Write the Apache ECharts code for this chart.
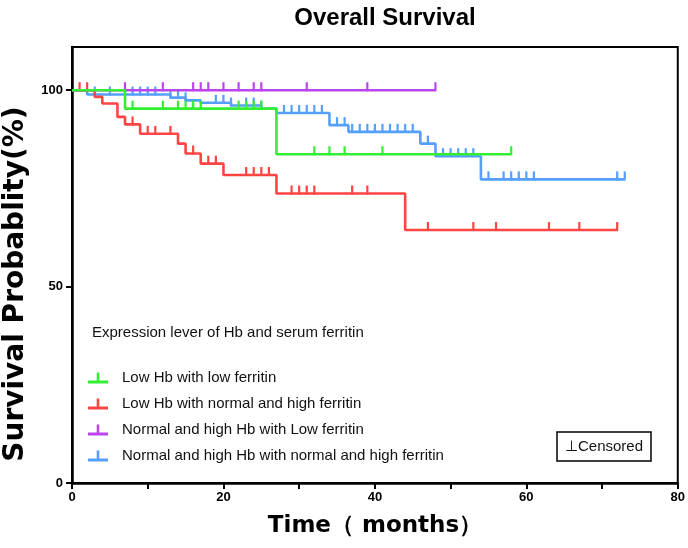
<!DOCTYPE html>
<html><head><meta charset="utf-8">
<script src="https://cdn.jsdelivr.net/npm/echarts@6/dist/echarts.min.js"></script>
<style>html,body{margin:0;padding:0;background:#fff}#c{width:688px;height:548px}</style>
</head><body><div id="c"></div>
<script>
// ---- data ----
const groupNames = [
  'Low Hb with low ferritin',
  'Low Hb with normal and high ferritin',
  'Normal and high Hb with Low ferritin',
  'Normal and high Hb with normal and high ferritin'
];
const legendTitle = 'Expression lever of Hb and serum ferritin';

const greenTimes = [0, 7, 27, 58];
const greenSurv = [100, 95.3, 83.7, 83.7];
const greenCensor = [8, 12, 14, 15, 16, 17, 22, 23, 24, 25, 32, 34, 36, 41, 58];

const redTimes = [0, 3, 4, 6, 7, 9, 14, 15, 17, 20, 27, 44, 72];
const redSurv = [100, 98.3, 96.6, 93.2, 91.3, 88.9, 86.4, 83.9, 81.3, 78.4, 73.7, 64.4, 64.4];
const redCensor = [1, 2, 8, 10, 11, 13, 16, 18, 19, 23, 24, 25, 26, 29, 30, 31, 32, 37, 39, 47, 53, 56, 63, 67, 72];

const purpleTimes = [0, 48];
const purpleSurv = [100, 100];
const purpleCensor = [7, 12, 16, 17, 18, 20, 22, 24, 25, 31, 39, 48];

const blueTimes = [0, 2, 13, 15, 17, 21, 25, 27, 34, 36.5, 46, 48, 54, 73];
const blueSurv = [100, 98.9, 98.1, 97.4, 96.8, 96.1, 95.3, 94.2, 91.1, 89.4, 86.4, 83.2, 77.3, 77.3];
const blueCensor = [3, 5, 8, 9, 10, 11, 13, 14, 15, 19, 20, 21, 23, 24, 25, 28, 29, 30, 31, 32, 33, 35, 36, 37, 38, 39, 40, 41, 42, 43, 44, 45, 47, 49, 50, 51, 52, 53, 55, 57, 58, 59, 60, 61, 72, 73];

const xTicks = [0, 20, 40, 60, 80];
const yTicks = [0, 50, 100];

// ---- build ----
const FONT = "'Liberation Sans', Arial, sans-serif";
const WIDE = "'DejaVu Sans', 'Liberation Sans', sans-serif";
const colors = ['#33ee33', '#ff4444', '#bb44ee', '#55a0ff'];
const groups = [
  {times: greenTimes, surv: greenSurv, cens: greenCensor, z: 8},
  {times: redTimes, surv: redSurv, cens: redCensor, z: 6},
  {times: purpleTimes, surv: purpleSurv, cens: purpleCensor, z: 7},
  {times: blueTimes, surv: blueSurv, cens: blueCensor, z: 5}
];
function survAt(T, S, t) {
  let v = S[0];
  for (let i = 0; i < T.length; i++) { if (T[i] <= t) v = S[i]; }
  return v;
}
const series = [];
groups.forEach((g, k) => {
  series.push({
    name: groupNames[k], type: 'line', step: 'end', symbol: 'none',
    data: g.times.map((t, i) => [t, g.surv[i]]),
    lineStyle: {color: colors[k], width: 2.6}, itemStyle: {color: colors[k]},
    z: g.z, silent: true, animation: false
  });
  series.push({
    name: groupNames[k] + ' censored', type: 'custom', z: g.z,
    data: g.cens.map(t => [t, survAt(g.times, g.surv, t)]),
    encode: {x: 0, y: 1},
    renderItem: function (params, api) {
      const p = api.coord([api.value(0), api.value(1)]);
      return {type: 'line', shape: {x1: p[0], y1: p[1] + 1, x2: p[0], y2: p[1] - 8},
        style: {stroke: colors[k], lineWidth: 2.2}};
    },
    silent: true, animation: false
  });
});

const chart = echarts.init(document.getElementById('c'), null, {renderer: 'canvas'});
chart.setOption({
  backgroundColor: '#fff',
  animation: false,
  title: {text: 'Overall Survival', left: 380, top: 1, textAlign: 'center',
    textStyle: {fontFamily: FONT, fontWeight: 'bold', fontSize: 24, color: '#000'}},
  grid: {left: 72, right: 9, top: 47, bottom: 65, show: true, borderColor: '#000', borderWidth: 2, backgroundColor: 'transparent'},
  xAxis: {type: 'value', min: 0, max: 80, interval: 10,
    axisLine: {lineStyle: {color: '#000', width: 2.5}},
    axisTick: {length: 6, lineStyle: {color: '#000', width: 2}},
    axisLabel: {customValues: xTicks, fontFamily: FONT, fontWeight: 'bold', fontSize: 13, color: '#000', margin: 8},
    splitLine: {show: false}},
  yAxis: {type: 'value', min: 0, max: 111, interval: 50,
    axisLine: {show: true, lineStyle: {color: '#000', width: 2.5}},
    axisTick: {show: true, customValues: yTicks, length: 6, lineStyle: {color: '#000', width: 2}},
    axisLabel: {customValues: yTicks, fontFamily: FONT, fontWeight: 'bold', fontSize: 13, color: '#000', margin: 9},
    splitLine: {show: false}},
  legend: {orient: 'vertical', left: 83, top: 365, itemGap: 10, itemWidth: 20, itemHeight: 11,
    data: groupNames.map((n, k) => ({name: n, icon: 'path://M0,8 L20,8 L20,11 L0,11 Z M8.7,0 L11.3,0 L11.3,8 L8.7,8 Z'})),
    textStyle: {fontFamily: FONT, fontSize: 15, color: '#111', lineHeight: 16, padding: [0, 0, 0, 9]},
    selectedMode: false},
  graphic: [
    {type: 'text', x: 92, y: 333, style: {text: legendTitle, font: '15px ' + FONT, fill: '#111', textVerticalAlign: 'middle'}},
    {type: 'text', x: 16, y: 284, rotation: Math.PI / 2,
      style: {text: 'Survival Probablity(%)', font: 'bold 28px ' + WIDE, fill: '#000', textAlign: 'center', textVerticalAlign: 'middle'}},
    {type: 'text', x: 375, y: 526,
      style: {text: 'Time\uff08 months\uff09', font: 'bold 23px ' + WIDE, fill: '#000', textAlign: 'center', textVerticalAlign: 'middle'}},
    {type: 'rect', shape: {x: 557, y: 432, width: 94, height: 29}, style: {fill: '#fff', stroke: '#000', lineWidth: 1.5}, z: 20},
    {type: 'text', x: 604, y: 447, z: 21,
      style: {text: '\u22a5Censored', font: '15px ' + FONT, fill: '#111', textAlign: 'center', textVerticalAlign: 'middle'}}
  ],
  series: series
});
</script>
</body></html>
